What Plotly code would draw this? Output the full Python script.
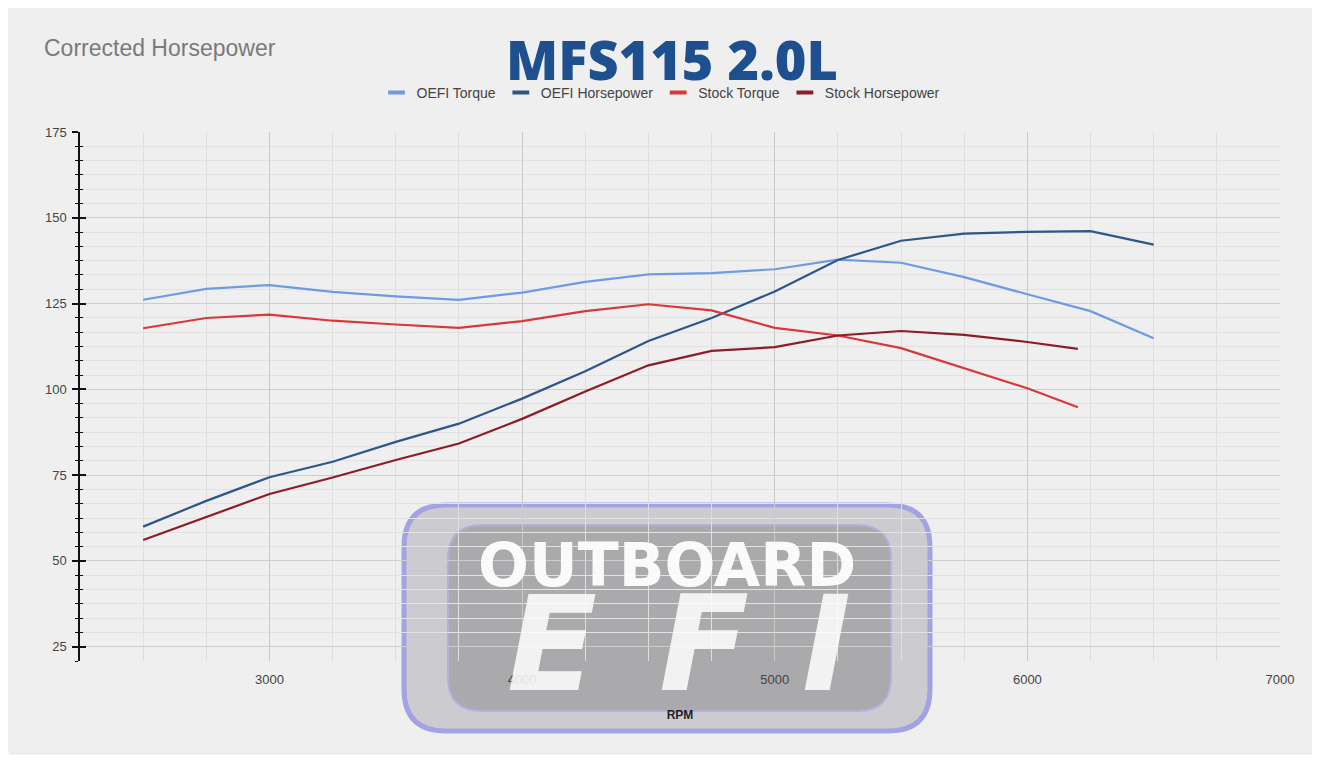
import plotly.graph_objects as go

# ---------------- data ----------------
rpm = [2500, 2750, 3000, 3250, 3500, 3750, 4000, 4250, 4500, 4750,
       5000, 5250, 5500, 5750, 6000, 6250, 6500]
oefi_torque = [126.1, 129.3, 130.4, 128.4, 127.1, 126.1, 128.2, 131.3, 133.5, 133.9,
               135.0, 137.8, 136.9, 132.7, 127.7, 122.8, 114.9]
oefi_hp = [60.0, 67.5, 74.4, 78.9, 84.7, 90.0, 97.3, 105.3, 114.1, 120.8,
           128.5, 137.7, 143.3, 145.4, 145.9, 146.1, 142.2]

stock_rpm = [2500, 2750, 3000, 3250, 3500, 3750, 4000, 4250, 4500, 4750,
             5000, 5250, 5500, 5750, 6000, 6200]
stock_torque = [117.8, 120.8, 121.8, 120.0, 118.9, 117.9, 119.9, 122.8, 124.8, 123.0,
                117.9, 115.7, 112.0, 106.1, 100.3, 94.8]
stock_hp = [56.1, 62.8, 69.5, 74.3, 79.4, 84.2, 91.4, 99.4, 107.0, 111.2,
            112.3, 115.7, 117.0, 115.9, 113.8, 111.8]

series_names = ["OEFI Torque", "OEFI Horsepower", "Stock Torque", "Stock Horsepower"]
series_colors = ["#6e9be3", "#2f5689", "#d9383a", "#8c1d25"]

x_ticks = [3000, 4000, 5000, 6000, 7000]
y_ticks = [25, 50, 75, 100, 125, 150, 175]

title_text = "MFS115 2.0L"
subtitle_text = "Corrected Horsepower"
x_title = "RPM"

# ---------------- geometry helpers (reference pixel -> paper) ----------------
OFF = 8                      # page body margin of the browser
W, H = 1320 - OFF, 761 - OFF
L, R, T, B = 80, 1280, 132, 661   # plot area in reference pixels


def px_x(p):
    return (p - L) / (R - L)


def px_y(p):
    return (B - p) / (B - T)


def rrect(x0, y0, x1, y1, r):
    pts = [
        ("M", (x0 + r, y0)), ("L", (x1 - r, y0)), ("Q", (x1, y0), (x1, y0 + r)),
        ("L", (x1, y1 - r)), ("Q", (x1, y1), (x1 - r, y1)),
        ("L", (x0 + r, y1)), ("Q", (x0, y1), (x0, y1 - r)),
        ("L", (x0, y0 + r)), ("Q", (x0, y0), (x0 + r, y0)),
    ]
    out = []
    for item in pts:
        cmd = item[0]
        coords = " ".join(f"{px_x(a):.5f},{px_y(b):.5f}" for a, b in item[1:])
        out.append(f"{cmd}{coords}")
    return " ".join(out) + " Z"


fig = go.Figure()

data_sets = [(rpm, oefi_torque), (rpm, oefi_hp), (stock_rpm, stock_torque), (stock_rpm, stock_hp)]
for (xs, ys), name, color in zip(data_sets, series_names, series_colors):
    fig.add_trace(go.Scatter(x=xs, y=ys, mode="lines", name=name,
                             line=dict(color=color, width=2.2), showlegend=False))

# legend entries (short dash symbols like the reference)
for name, color in zip(series_names, series_colors):
    fig.add_trace(go.Scatter(x=[None], y=[None], mode="markers", name=name,
                             marker=dict(symbol="line-ew-open", size=12, color=color,
                                         line=dict(color=color, width=4))))

# invisible helper on yaxis2 so the overlay axis renders
fig.add_trace(go.Scatter(x=[None], y=[None], yaxis="y2", showlegend=False, hoverinfo="skip"))

yr = [25 - 25 / 6, 175]

fig.update_layout(
    width=W, height=H,
    margin=dict(l=L - OFF, r=1320 - R, t=T - OFF, b=761 - B),
    paper_bgcolor="#ffffff",
    plot_bgcolor="rgba(0,0,0,0)",
    font=dict(family="Liberation Sans, Arial, sans-serif", color="#444444", size=12),
    title=dict(text=title_text, x=(672 - OFF) / W, xanchor="center", xref="container",
               y=1 - (61 - OFF) / H, yanchor="middle", yref="container",
               font=dict(family="Open Sans", size=54, color="#1e4f8e", weight=800)),
    legend=dict(orientation="h", xref="container", yref="container",
                x=(661 - OFF) / W, xanchor="center", y=1 - (93 - OFF) / H, yanchor="middle",
                font=dict(size=14, color="#444444"), bgcolor="rgba(0,0,0,0)",
                itemwidth=30, tracegroupgap=0),
    xaxis=dict(range=[2250, 7000], tickvals=x_ticks, showline=False, zeroline=False,
               showgrid=True, gridcolor="#c9c9c9", gridwidth=1, ticks="",
               tickfont=dict(size=13, color="#444444"), ticklabelstandoff=9,
               minor=dict(dtick=250, tick0=3000, showgrid=True, gridcolor="#dedede", gridwidth=1),
               title=dict(text=x_title, standoff=24,
                          font=dict(size=12, color="#222222", weight="bold"))),
    yaxis=dict(range=yr, tickvals=y_ticks, showline=True, linecolor="#111111", linewidth=1.5,
               zeroline=False, showgrid=True, gridcolor="#cdcdcd", gridwidth=1,
               ticks="outside", ticklen=6, tickwidth=1.5, tickcolor="#111111",
               tickfont=dict(size=13, color="#444444"), ticklabelstandoff=3,
               minor=dict(dtick=25 / 6, tick0=25, ticks="outside", ticklen=3, tickwidth=1.2,
                          tickcolor="#111111", showgrid=True, gridcolor="#e2e2e2", gridwidth=1)),
    yaxis2=dict(range=yr, overlaying="y", side="left", anchor="x", showgrid=False,
                zeroline=False, showticklabels=False, tickvals=y_ticks,
                ticks="inside", ticklen=6, tickwidth=1.5, tickcolor="#111111",
                minor=dict(dtick=25 / 6, tick0=25, ticks="inside", ticklen=3, tickwidth=1.2,
                           tickcolor="#111111", showgrid=False)),
)

shapes = []
# grey panel behind everything
shapes.append(dict(type="path", xref="paper", yref="paper", layer="below",
                   path=rrect(9, 5, 1313, 754, 3), fillcolor="#efefef",
                   line=dict(color="#e6e6e6", width=1)))
# logo badge
shapes.append(dict(type="path", xref="paper", yref="paper", layer="below",
                   path=rrect(404, 505, 930, 731, 42), fillcolor="rgba(198,198,202,0.85)",
                   line=dict(color="#a3a3e3", width=5)))
shapes.append(dict(type="path", xref="paper", yref="paper", layer="below",
                   path=rrect(448, 525, 891, 711, 34), fillcolor="rgba(166,166,168,0.9)",
                   line=dict(color="rgba(175,175,225,0.9)", width=2)))
fig.update_layout(shapes=shapes)

annotations = [
    dict(text=subtitle_text, xref="paper", yref="paper", x=px_x(42), y=px_y(48),
         xanchor="left", yanchor="middle", showarrow=False,
         font=dict(size=23, color="#7a7a7a", family="Liberation Sans, Arial")),
    dict(text="OUTBOARD", xref="paper", yref="paper", x=px_x(667), y=px_y(565),
         xanchor="center", yanchor="middle", showarrow=False, opacity=0.95,
         font=dict(size=60, color="#ffffff", family="DejaVu Sans", weight="bold")),
]
for letter, cx in zip(["E", "F", "I"], [552, 704, 826]):
    annotations.append(dict(text=letter, xref="paper", yref="paper", x=px_x(cx), y=px_y(644),
                            xanchor="center", yanchor="middle", showarrow=False, opacity=0.85,
                            font=dict(size=132, color="#ffffff", family="DejaVu Sans",
                                      weight="bold", style="italic")))
fig.update_layout(annotations=annotations)

fig.write_html("out.html")
